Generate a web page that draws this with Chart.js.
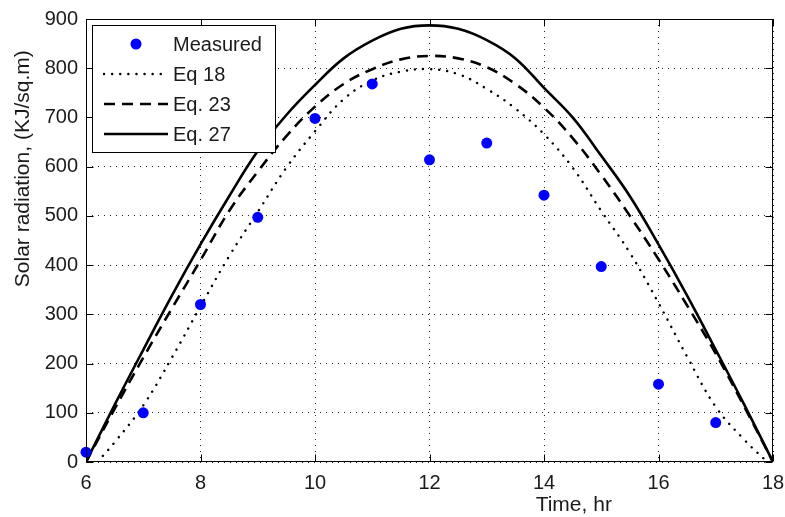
<!DOCTYPE html>
<html>
<head>
<meta charset="utf-8">
<script src="https://cdn.jsdelivr.net/npm/chart.js@4.4.1/dist/chart.umd.min.js"></script>
<style>
  html, body { margin: 0; padding: 0; background: #fff; }
  #wrap { width: 785px; height: 517px; }
</style>
</head>
<body>
<div id="wrap"><canvas id="c" width="785" height="517"></canvas></div>
<script>
// Hourly measured radiation
const hours = [6, 7, 8, 9, 10, 11, 12, 13, 14, 15, 16, 17];
const measured = [20, 100, 320, 497, 698, 768, 614, 648, 542, 397, 158, 80];

// Eq 18 model curve
const eq18Time = [6.2, 6.5, 7, 7.5, 8, 8.5, 9, 9.5, 10, 10.5, 11, 11.5, 12, 12.5, 13, 13.5, 14, 14.5, 15, 15.5, 16, 16.5, 17, 17.5, 17.9];
const eq18 = [0, 40, 115, 212, 316, 418, 508, 598, 672, 737, 775, 793, 798, 788, 758, 718, 666, 598, 510, 425, 323, 214, 112, 45, 0];

// Eq. 23 and Eq. 27 model curves
const curveTime = [6, 6.5, 7, 7.5, 8, 8.5, 9, 9.5, 10, 10.5, 11, 11.5, 12, 12.5, 13, 13.5, 14, 14.5, 15, 15.5, 16, 16.5, 17, 17.5, 18];
const eq23 = [0, 108, 212, 312, 410, 510, 590, 662, 722, 768, 798, 818, 825, 820, 802, 768, 720, 658, 583, 500, 412, 318, 220, 112, 0];
const eq27 = [0, 116, 228, 338, 442, 540, 632, 705, 766, 820, 856, 880, 887, 880, 857, 820, 760, 700, 622, 540, 442, 338, 228, 116, 0];

// Axis ticks and titles
const xTicks = [6, 8, 10, 12, 14, 16, 18];
const yTicks = [0, 100, 200, 300, 400, 500, 600, 700, 800, 900];
const xTitle = 'Time, hr';
const yTitle = 'Solar radiation, (KJ/sq.m)';

const FONT = 'Liberation Sans, Arial, sans-serif';
const FSIZE = 20;
const TSIZE = 21;
const TEXT = '#1a1a1a';

const pts = (xs, ys) => xs.map((v, i) => ({ x: v, y: ys[i] }));

// Box, inward tick marks, axis titles and the boxed legend
const framePlugin = {
  id: 'frame',
  afterDraw(chart) {
    const { ctx, chartArea: a, scales: { x, y } } = chart;
    ctx.save();
    ctx.strokeStyle = '#000';
    ctx.lineWidth = 1;
    ctx.setLineDash([]);
    const L = Math.round(a.left) + 0.5, R = Math.round(a.right) - 0.5;
    const T = Math.round(a.top) + 0.5, B = Math.round(a.bottom) - 0.5;
    ctx.strokeRect(L, T, R - L, B - T);
    const tl = 7;
    ctx.beginPath();
    xTicks.forEach(v => {
      const px = Math.round(x.getPixelForValue(v)) + 0.5;
      ctx.moveTo(px, B); ctx.lineTo(px, B - tl);
      ctx.moveTo(px, T); ctx.lineTo(px, T + tl);
    });
    yTicks.forEach(v => {
      const py = Math.round(y.getPixelForValue(v)) + 0.5;
      ctx.moveTo(L, py); ctx.lineTo(L + tl, py);
      ctx.moveTo(R, py); ctx.lineTo(R - tl, py);
    });
    ctx.stroke();

    // axis titles
    ctx.fillStyle = TEXT;
    ctx.font = TSIZE + 'px ' + FONT;
    ctx.textAlign = 'center';
    ctx.textBaseline = 'middle';
    ctx.fillText(xTitle, a.left + (a.right - a.left) * 0.71, 505);
    ctx.save();
    ctx.translate(23, a.top + (a.bottom - a.top) * 0.338);
    ctx.rotate(-Math.PI / 2);
    ctx.fillText(yTitle, 0, 0);
    ctx.restore();

    // legend
    const lx = 92, ly = 25, lw = 183, lh = 127;
    ctx.fillStyle = '#fff';
    ctx.fillRect(lx, ly, lw, lh);
    ctx.strokeStyle = '#000';
    ctx.lineWidth = 1;
    ctx.strokeRect(lx + 0.5, ly + 0.5, lw, lh);
    const rows = [44, 74, 104, 134];
    chart.data.datasets.forEach((ds, i) => {
      const ry = rows[i];
      if (ds.showLine === false) {
        ctx.fillStyle = ds.pointBackgroundColor;
        ctx.beginPath();
        ctx.arc(136, ry, ds.pointRadius, 0, Math.PI * 2);
        ctx.fill();
      } else {
        ctx.strokeStyle = ds.borderColor;
        ctx.lineWidth = ds.borderWidth;
        ctx.lineCap = ds.borderCapStyle || 'butt';
        ctx.setLineDash(ds.borderDash || []);
        ctx.beginPath();
        ctx.moveTo(104, ry); ctx.lineTo(168, ry);
        ctx.stroke();
        ctx.setLineDash([]);
        ctx.lineCap = 'butt';
      }
      ctx.fillStyle = TEXT;
      ctx.font = FSIZE + 'px ' + FONT;
      ctx.textAlign = 'left';
      ctx.textBaseline = 'middle';
      ctx.fillText(ds.label, 173, ry + 1);
    });
    ctx.restore();
  }
};

new Chart(document.getElementById('c'), {
  type: 'scatter',
  data: {
    datasets: [
      {
        label: 'Measured',
        data: pts(hours, measured),
        showLine: false,
        clip: false,
        pointRadius: 5.5,
        pointHoverRadius: 5.5,
        pointBackgroundColor: '#0000ff',
        pointBorderWidth: 0,
        borderColor: '#0000ff'
      },
      {
        label: 'Eq 18',
        data: pts(eq18Time, eq18),
        showLine: true,
        borderColor: '#000',
        borderWidth: 2.4,
        borderDash: [0.1, 8],
        borderCapStyle: 'round',
        pointRadius: 0,
        tension: 0.4
      },
      {
        label: 'Eq. 23',
        data: pts(curveTime, eq23),
        showLine: true,
        borderColor: '#000',
        borderWidth: 2.6,
        borderDash: [11, 7],
        pointRadius: 0,
        tension: 0.4
      },
      {
        label: 'Eq. 27',
        data: pts(curveTime, eq27),
        showLine: true,
        borderColor: '#000',
        borderWidth: 2.6,
        pointRadius: 0,
        tension: 0.4
      }
    ]
  },
  options: {
    responsive: false,
    animation: false,
    events: [],
    layout: { padding: { left: 0, right: 12, top: 19, bottom: 0 } },
    plugins: { legend: { display: false }, tooltip: { enabled: false }, title: { display: false } },
    scales: {
      x: {
        type: 'linear',
        min: 6, max: 18,
        afterBuildTicks: s => { s.ticks = xTicks.map(v => ({ value: v })); },
        afterFit: s => { s.height = 55; s.paddingLeft = 0; s.paddingRight = 0; },
        grid: { color: '#222', lineWidth: 1, drawTicks: false },
        border: { display: false, dash: [1, 5] },
        ticks: { padding: 9, color: TEXT, font: { family: FONT, size: FSIZE }, maxRotation: 0 }
      },
      y: {
        type: 'linear',
        min: 0, max: 900,
        afterBuildTicks: s => { s.ticks = yTicks.map(v => ({ value: v })); },
        afterFit: s => { s.width = 86; s.paddingTop = 0; s.paddingBottom = 0; },
        grid: { color: '#222', lineWidth: 1, drawTicks: false },
        border: { display: false, dash: [1, 5] },
        ticks: { padding: 8, color: TEXT, font: { family: FONT, size: FSIZE } }
      }
    }
  },
  plugins: [framePlugin]
});
</script>
</body>
</html>
